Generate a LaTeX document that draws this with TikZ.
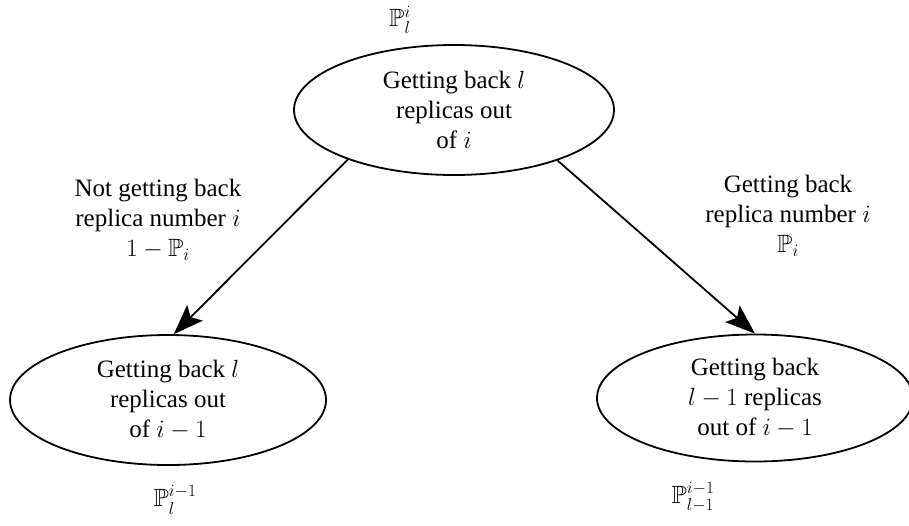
\documentclass[tikz,border=0pt]{standalone}
\usepackage{amssymb}
\usepackage[no-math]{fontspec}
\setmainfont{Liberation Serif}
\usetikzlibrary{shapes.geometric,arrows.meta}
\begin{document}
\begin{tikzpicture}[x=1pt,y=-1pt,
  every node/.style={font=\fontsize{25}{30}\selectfont},
  state/.style={draw, ellipse, line width=1.8pt, inner sep=0pt, align=center,
    minimum width=320pt, minimum height=130pt},
  lbl/.style={align=center},
  arr/.style={line width=1.8pt, -{Stealth[length=30pt,width=22pt,inset=6pt]}}]
\useasboundingbox (0,0) rectangle (909,525);
\node[state] (top) at (454,110) {Getting back $l$\\replicas out\\of $i$};
\node[state, minimum width=316pt] (left) at (168,400) {Getting back $l$\\replicas out\\of $i-1$};
\node[state, minimum width=316pt, minimum height=127pt] (right) at (755,398) {Getting back\\$l-1$ replicas\\out of $i-1$};
\node (ptop) at (400,20) {$\mathbb{P}_l^i$};
\node[lbl] (lleft) at (158,220) {Not getting back\\replica number $i$\\$1-\mathbb{P}_i$};
\node[lbl] (lright) at (788,216) {Getting back\\replica number $i$\\$\mathbb{P}_i$};
\node (pleft) at (175,500) {$\mathbb{P}_l^{i-1}$};
\node (pright) at (693,497) {$\mathbb{P}_{l-1}^{i-1}$};
\draw[arr] (top.205.7) -- (left.85);
\draw[arr] (top.-26) -- (right.90);
\end{tikzpicture}
\end{document}
